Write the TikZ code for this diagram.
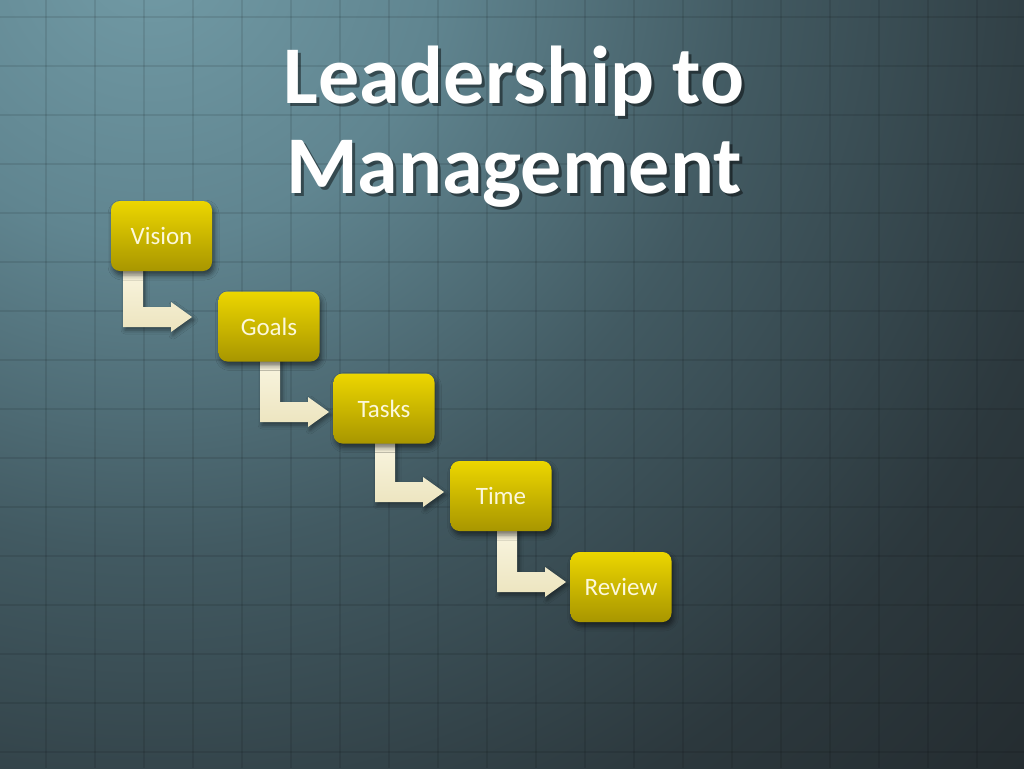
\documentclass[tikz,border=0pt]{standalone}
\usepackage{fontspec}
\setmainfont{Carlito}
\usetikzlibrary{calc,shadows.blur}
\definecolor{bgA}{RGB}{114,155,166}
\definecolor{bgB}{RGB}{96,133,144}
\definecolor{bgC}{RGB}{66,90,98}
\definecolor{bgD}{RGB}{44,56,61}
\definecolor{bgE}{RGB}{36,44,48}
\definecolor{boxT}{RGB}{236,214,0}
\definecolor{boxB}{RGB}{168,150,0}
\definecolor{boxtext}{RGB}{252,248,220}
\definecolor{arrT}{RGB}{250,246,226}
\definecolor{arrB}{RGB}{236,228,190}
\pgfdeclareradialshading{bgshade}{\pgfpoint{0bp}{0bp}}{color(0bp)=(bgA); color(6bp)=(bgB); color(12.5bp)=(bgC); color(20bp)=(bgD); color(25bp)=(bgE); color(50bp)=(bgE)}
\tikzset{
  gridline/.style={draw=black, opacity=0.09, line width=1.6pt},
  stepbox/.style={rounded corners=9pt, minimum width=101pt, minimum height=70pt,
    top color=boxT, bottom color=boxB, text=boxtext, inner sep=0pt,
    font=\fontsize{25}{30}\selectfont,
    blur shadow={shadow xshift=2pt, shadow yshift=-4pt, shadow opacity=55, shadow blur radius=5pt}},
  arrowshape/.style={top color=arrT, bottom color=arrB,
    blur shadow={shadow xshift=2pt, shadow yshift=-3pt, shadow opacity=45, shadow blur radius=4pt}},
  titletext/.style={anchor=base, text=white, font=\fontsize{82}{90}\selectfont\bfseries},
  titleshadow/.style={anchor=base, text=black, opacity=0.45, font=\fontsize{82}{90}\selectfont\bfseries},
  bentarrow/.pic={
    \path[arrowshape] (0,0) -- (0,-#1) -- (20,-#1) -- (20,-20) -- (48,-20) -- (48,-25)
      -- (69,-10) -- (48,5) -- (48,0) -- cycle;
  }
}
\begin{document}
\begin{tikzpicture}[x=1pt,y=-1pt]
\useasboundingbox (0,0) rectangle (1024,768);
\fill[bgE] (0,0) rectangle (1024,768);
\begin{scope}
  \clip (0,0) rectangle (1024,768);
  \shade[shading=bgshade] (150,-50) circle[radius=1200pt];
  \foreach \gx in {-3,46,...,1030} \draw[gridline] (\gx,0) -- (\gx,768);
  \foreach \gy in {17,66,...,770} \draw[gridline] (0,\gy) -- (1024,\gy);
\end{scope}

% title
\node[titleshadow] (t1s) at (517,106) {Leadership to};
\node[titleshadow] (t2s) at (517,196) {Management};
\node[titletext] (t1) at (514,103) {Leadership to};
\node[titletext] (t2) at (514,193) {Management};

% boxes (positions), drawn after arrows
\path (161.5,236) coordinate (cv) (269,326.5) coordinate (cg) (384,408.5) coordinate (ct)
      (501,496) coordinate (ctm) (621,587) coordinate (cr);
\path (cv) ++(-50.5,35) coordinate (vsw);
\path (cg) ++(-51,35.5) coordinate (gsw);
\path (ct) ++(-51,35.5) coordinate (tsw);
\path (ctm) ++(-51,35) coordinate (tmsw);

\pic at ($(vsw)+(12,56)$) {bentarrow=62};
\pic at ($(gsw)+(42,60)$) {bentarrow=65};
\pic at ($(tsw)+(42,58)$) {bentarrow=63};
\pic at ($(tmsw)+(47,61)$) {bentarrow=66};

\node[stepbox] (vision) at (cv) {Vision};
\node[stepbox] (goals) at (cg) {Goals};
\node[stepbox] (tasks) at (ct) {Tasks};
\node[stepbox] (time) at (ctm) {Time};
\node[stepbox] (review) at (cr) {Review};
\end{tikzpicture}
\end{document}
